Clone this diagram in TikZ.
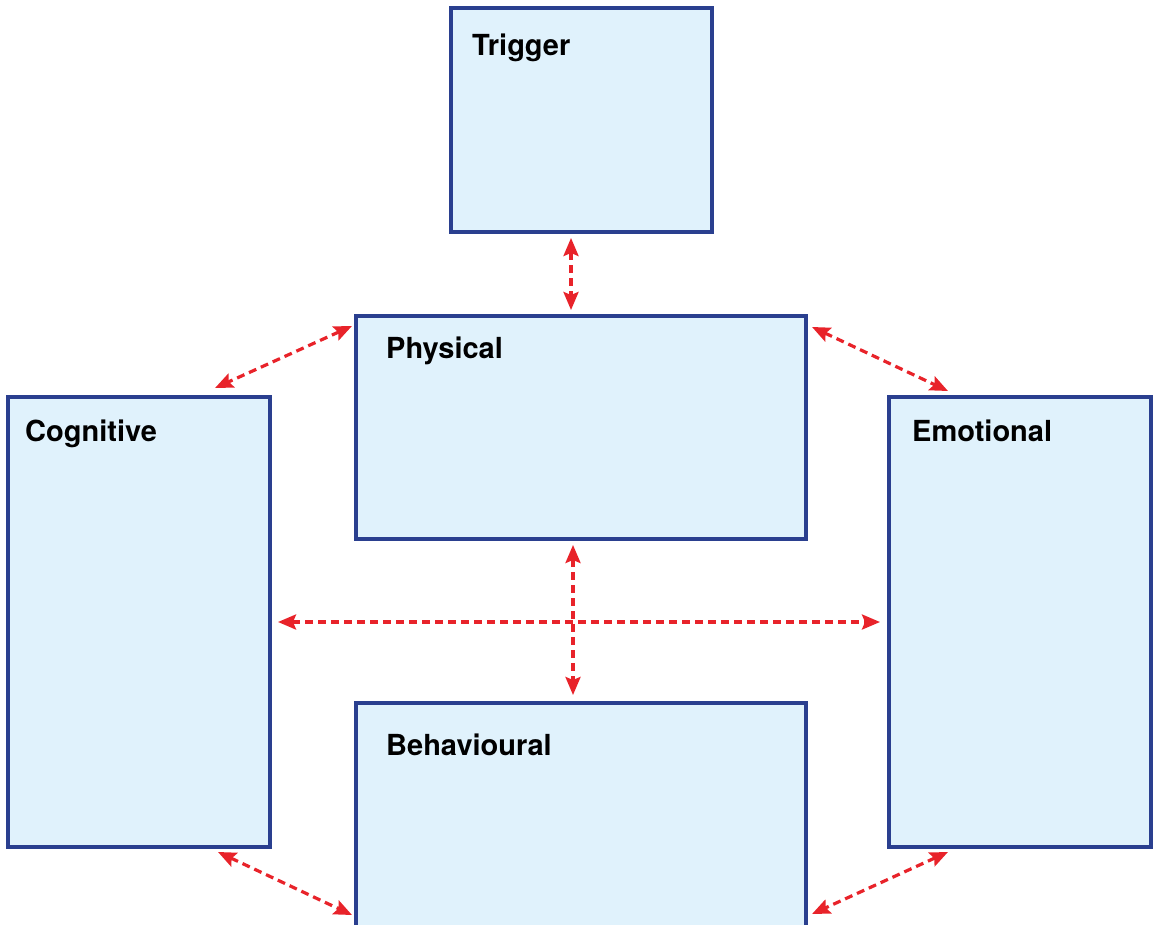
\documentclass[tikz,border=0pt]{standalone}
\usepackage{fontspec}
\setmainfont{TeX Gyre Heros}
\usetikzlibrary{arrows.meta}
\definecolor{boxfill}{HTML}{E0F2FC}
\definecolor{boxline}{HTML}{2A3F8F}
\definecolor{arrred}{HTML}{E8232A}
\begin{document}
\begin{tikzpicture}[x=1pt,y=-1pt,
  panel/.style={draw=boxline,fill=boxfill,line width=3.2pt},
  lbl/.style={anchor=base west,inner sep=0pt,font=\bfseries\fontsize{29}{32}\selectfont},
  link/.style={draw=arrred,line width=3.2pt,dash pattern=on 8pt off 5pt,
    {Stealth[length=18pt,width=15pt,inset=3pt]}-{Stealth[length=18pt,width=15pt,inset=3pt]}}]
\useasboundingbox (0,0) rectangle (1158,925);
\clip (0,0) rectangle (1158,925);
% boxes
\path[panel] (451,8) rectangle (712,232);
\path[panel] (356,316) rectangle (806,539);
\path[panel] (8,397) rectangle (270,847);
\path[panel] (889,397) rectangle (1151,847);
\path[panel] (356,703) rectangle (806,960);
% labels
\node[lbl] (trigger) at (472,56) {Trigger};
\node[lbl] (physical) at (386,358) {Physical};
\node[lbl] (cognitive) at (25,441) {Cognitive};
\node[lbl] (emotional) at (912,441) {Emotional};
\node[lbl] (behavioural) at (386,755) {Behavioural};
% connector ends
\coordinate (tp1) at (571,238);
\coordinate (tp2) at (571,310);
\coordinate (pc1) at (352,326);
\coordinate (pc2) at (215,388);
\coordinate (pe1) at (812,327);
\coordinate (pe2) at (948,391);
\coordinate (pb1) at (573,545);
\coordinate (pb2) at (573,695);
\coordinate (ce1) at (278,622);
\coordinate (ce2) at (880,622);
\coordinate (cb1) at (218,852);
\coordinate (cb2) at (352,915);
\coordinate (eb1) at (948,852);
\coordinate (eb2) at (812,914);
\draw[link] (tp1) -- (tp2);
\draw[link] (pc1) -- (pc2);
\draw[link] (pe1) -- (pe2);
\draw[link] (pb1) -- (pb2);
\draw[link] (ce1) -- (ce2);
\draw[link] (cb1) -- (cb2);
\draw[link] (eb1) -- (eb2);
\end{tikzpicture}
\end{document}
